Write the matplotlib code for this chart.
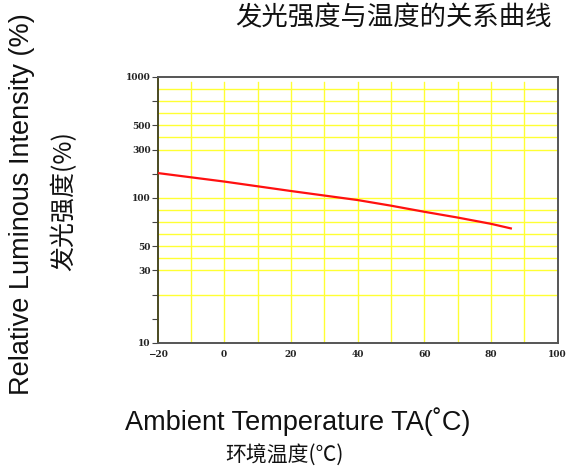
import numpy as np
import matplotlib
matplotlib.use('Agg')
import matplotlib.pyplot as plt
from matplotlib.ticker import FixedLocator, NullFormatter, FixedFormatter

# ---- data ----
temps = [-20, 0, 20, 40, 50, 60, 70, 80, 86]
intensity = [176, 145, 117, 97, 89.5, 82, 75.5, 69, 64.6]

ytick_values = [10, 30, 50, 100, 300, 500, 1000]
xtick_values = [-20, 0, 20, 40, 60, 80, 100]

# the chart's own (non-uniform) vertical ruler: slot index of each labelled value
ytick_slots = [0, 3, 4, 6, 8, 9, 11]
minor_slots = [1, 2, 5, 7, 10]
hgrid_slots = [2, 3, 3.5, 4, 4.5, 5, 5.5, 6, 8, 8.5, 9, 9.5, 10, 10.5]
vgrid_x = [-10, 0, 10, 20, 30, 40, 50, 60, 70, 80, 90]

title = "发光强度与温度的关系曲线"
ylabel_en = "Relative Luminous Intensity (%)"
ylabel_cn = "发光强度(%)"
xlabel_en = "Ambient Temperature TA(˚C)"
xlabel_cn = "环境温度(℃)"

logv = np.log10(ytick_values)
slots = np.array(ytick_slots, dtype=float)


def forward(v):
    v = np.asarray(v, dtype=float)
    return np.interp(np.log10(np.clip(v, 1e-12, None)), logv, slots)


def inverse(p):
    p = np.asarray(p, dtype=float)
    return 10 ** np.interp(p, slots, logv)


W, H = 571, 470
fig = plt.figure(figsize=(W / 100, H / 100), dpi=100)
L, R, T, B = 157.5, 557.5, 77, 343
ax = fig.add_axes([L / W, 1 - B / H, (R - L) / W, (B - T) / H])

ax.set_yscale('function', functions=(forward, inverse))
ax.set_xlim(-20, 100)
ax.set_ylim(10, 1000)

grid_c = '#ffff33'
for s in hgrid_slots:
    ax.axhline(float(inverse(s)), color=grid_c, lw=1.0, zorder=1)
for xv in vgrid_x:
    ax.axvline(xv, ymax=0.983, color=grid_c, lw=1.0, zorder=1)

ax.plot(temps, intensity, color='#ff1010', lw=1.6, zorder=3)

ax.yaxis.set_major_locator(FixedLocator(ytick_values))
ax.yaxis.set_major_formatter(FixedFormatter([str(v) for v in ytick_values]))
ax.yaxis.set_minor_locator(FixedLocator([float(inverse(s)) for s in minor_slots]))
ax.yaxis.set_minor_formatter(NullFormatter())
ax.xaxis.set_major_locator(FixedLocator(xtick_values))
ax.xaxis.set_major_formatter(FixedFormatter(['\u221220' if v < 0 else str(v) for v in xtick_values]))

for lab in ax.get_yticklabels() + ax.get_xticklabels():
    lab.set_fontfamily('DejaVu Serif')
    lab.set_fontweight('bold')
    lab.set_fontsize(6.5)
    lab.set_color('#222222')

ax.tick_params(axis='y', which='both', direction='out', length=4, width=0.8,
               color='#444444', pad=1)
ax.tick_params(axis='x', which='both', length=0, pad=5)

for sp in ax.spines.values():
    sp.set_color('#555555')
    sp.set_linewidth(1.4)
ax.spines['left'].set_color('#4a4a20')

cjk = ['Noto Sans CJK SC', 'DejaVu Sans']
lat = ['Liberation Sans', 'DejaVu Sans']

fig.text(393 / W, 1 - 18 / H, title, family=cjk, fontsize=19,
         ha='center', va='center', color='#111111')
fig.text(22 / W, 1 - 204 / H, ylabel_en, family=lat, fontsize=19.5,
         rotation=90, ha='center', va='center', color='#111111')
fig.text(64 / W, 1 - 201 / H, ylabel_cn, family=cjk, fontsize=18,
         rotation=90, ha='center', va='center', color='#111111')
fig.text(298 / W, 1 - 422 / H, xlabel_en, family=lat, fontsize=19.5,
         ha='center', va='center', color='#111111')
fig.text(284 / W, 1 - 455 / H, xlabel_cn, family=cjk, fontsize=15,
         ha='center', va='center', color='#111111')

fig.savefig('out.png', dpi=100)
